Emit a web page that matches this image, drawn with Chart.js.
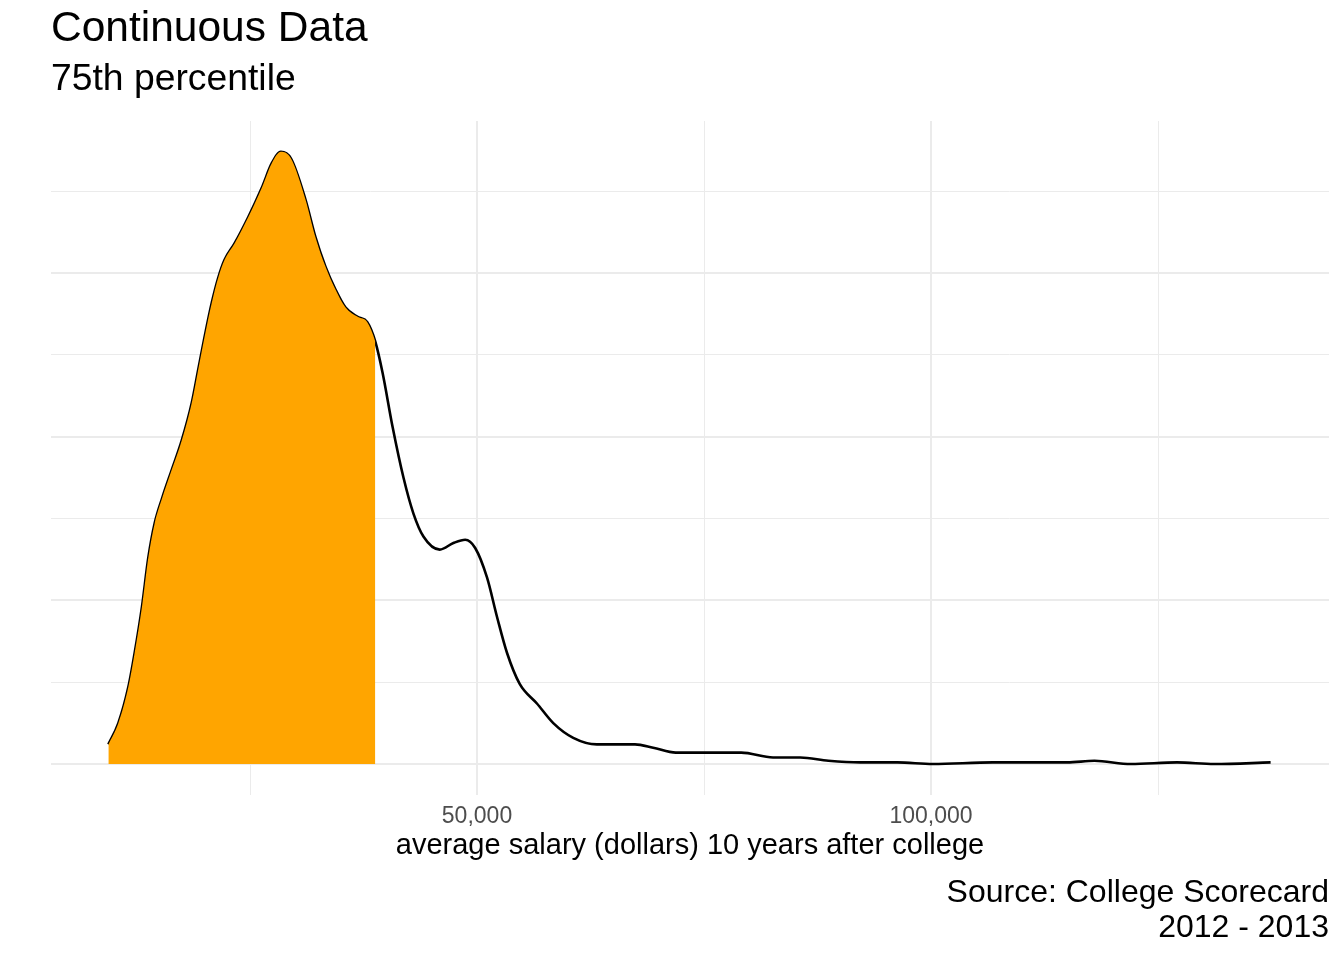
<!DOCTYPE html>
<html lang="en">
<head>
<meta charset="utf-8">
<title>Continuous Data</title>
<script src="https://cdn.jsdelivr.net/npm/chart.js@4.4.0/dist/chart.umd.min.js"></script>
<style>
  html, body { margin: 0; padding: 0; background: #fff; }
  #chart { display: block; }
</style>
</head>
<body>
<canvas id="chart" width="1344" height="960"></canvas>
<script>
// Salary (dollars) and density (x 1e-5)
const salary = [9400, 10500, 11600, 12300, 13100, 13800, 14500, 15300, 16400, 17500,
  18600, 19300, 20000, 20800, 21500, 22200, 23300, 24800, 26300, 27400,
  28400, 29500, 31100, 32200, 33300, 34400, 35500, 36900, 37900, 38800,
  39600, 40700, 41900, 43000, 44100, 45900, 47400, 48700, 49800, 51100,
  52200, 53300, 54700, 56600, 58400, 60600, 63200, 67400, 69400, 71900,
  75600, 79100, 82600, 85600, 88700, 92200, 96300, 100200, 106800, 111900,
  115000, 118000, 122000, 127100, 131200, 137400];
const density = [0.12, 0.25, 0.47, 0.68, 0.96, 1.26, 1.47, 1.62, 1.80, 1.98,
  2.21, 2.41, 2.61, 2.82, 2.97, 3.08, 3.18, 3.34, 3.52, 3.67,
  3.74, 3.70, 3.45, 3.22, 3.04, 2.90, 2.79, 2.73, 2.70, 2.58,
  2.39, 2.06, 1.75, 1.53, 1.39, 1.31, 1.35, 1.37, 1.32, 1.14,
  0.90, 0.68, 0.49, 0.37, 0.25, 0.16, 0.12, 0.12, 0.10, 0.07,
  0.07, 0.07, 0.04, 0.04, 0.02, 0.01, 0.01, 0.00, 0.01, 0.01,
  0.01, 0.02, 0.00, 0.01, 0.00, 0.01];

// 75th percentile: the area left of it is shaded
const p75Salary = 38800;

// Grid positions (major + minor) and the ticks that get a label
const xGridValues = [25000, 50000, 75000, 100000, 125000];
const xLabeledTicks = [50000, 100000];
const yGridValues = [0, 0.5, 1, 1.5, 2, 2.5, 3, 3.5];

const points = salary.map((x, i) => ({ x, y: density[i] }));

const FONT = "'Liberation Sans', Arial, Helvetica, sans-serif";
Chart.defaults.font.family = FONT;
Chart.defaults.color = '#000';

// Caption at the bottom right (ggplot style), drawn after everything else
const captionPlugin = {
  id: 'caption',
  afterDraw(chart, args, opts) {
    const { ctx, chartArea } = chart;
    ctx.save();
    ctx.font = opts.size + 'px ' + FONT;
    ctx.fillStyle = '#000';
    ctx.textAlign = 'right';
    ctx.textBaseline = 'alphabetic';
    opts.lines.forEach((line, i) => {
      ctx.fillText(line, chartArea.right, opts.y + i * opts.gap);
    });
    ctx.restore();
  }
};

const gridWidth = major => major ? 2 : 1;

new Chart(document.getElementById('chart'), {
  type: 'line',
  data: {
    datasets: [
      {
        // shaded area, drawn on top of the line, only up to the 75th percentile
        data: points,
        borderWidth: 0,
        pointRadius: 0,
        fill: 'origin',
        backgroundColor: 'rgba(0,0,0,0)',
        cubicInterpolationMode: 'monotone',
        segment: {
          backgroundColor: ctx => ctx.p0.parsed.x < p75Salary ? '#FFA500' : 'rgba(0,0,0,0)'
        }
      },
      {
        // full density line
        data: points,
        borderColor: '#000',
        borderWidth: 2.6,
        pointRadius: 0,
        fill: false,
        cubicInterpolationMode: 'monotone'
      }
    ]
  },
  options: {
    responsive: false,
    devicePixelRatio: 1,
    animation: false,
    // chart area ends up at 51,121 - 1329,795
    layout: { padding: { top: 4.1, left: 51, right: 15, bottom: 104.6 } },
    plugins: {
      legend: { display: false },
      tooltip: { enabled: false },
      title: {
        display: true,
        text: 'Continuous Data',
        align: 'start',
        color: '#000',
        font: { size: 42.5, weight: 'normal', lineHeight: 1.2 },
        padding: { top: 0, bottom: 0 }
      },
      subtitle: {
        display: true,
        text: '75th percentile',
        align: 'start',
        color: '#000',
        font: { size: 37.3, weight: 'normal', lineHeight: 1.2 },
        padding: { top: 1.92, bottom: 19.22 }
      },
      caption: {
        lines: ['Source: College Scorecard', '2012 - 2013'],
        size: 32,
        y: 902,
        gap: 35
      }
    },
    scales: {
      x: {
        type: 'linear',
        min: 3084,
        max: 143830,
        afterBuildTicks: scale => { scale.ticks = xGridValues.map(value => ({ value })); },
        ticks: {
          autoSkip: false,
          maxRotation: 0,
          padding: 7.5,
          color: '#4D4D4D',
          font: { size: 23, lineHeight: 1.2 },
          callback: value => xLabeledTicks.includes(value) ? value.toLocaleString('en-US') : ''
        },
        grid: {
          drawTicks: false,
          color: '#EBEBEB',
          lineWidth: ctx => gridWidth(xLabeledTicks.includes(ctx.tick && ctx.tick.value))
        },
        border: { display: false },
        title: {
          display: true,
          text: 'average salary (dollars) 10 years after college',
          color: '#000',
          font: { size: 29, lineHeight: 0.614 },
          padding: { top: 0, bottom: 0 }
        }
      },
      y: {
        min: -0.189,
        max: 3.928,
        afterBuildTicks: scale => { scale.ticks = yGridValues.map(value => ({ value })); },
        ticks: { display: false },
        grid: {
          drawTicks: false,
          color: '#EBEBEB',
          lineWidth: ctx => gridWidth(ctx.tick && Number.isInteger(ctx.tick.value))
        },
        border: { display: false }
      }
    }
  },
  plugins: [captionPlugin]
});
</script>
</body>
</html>
